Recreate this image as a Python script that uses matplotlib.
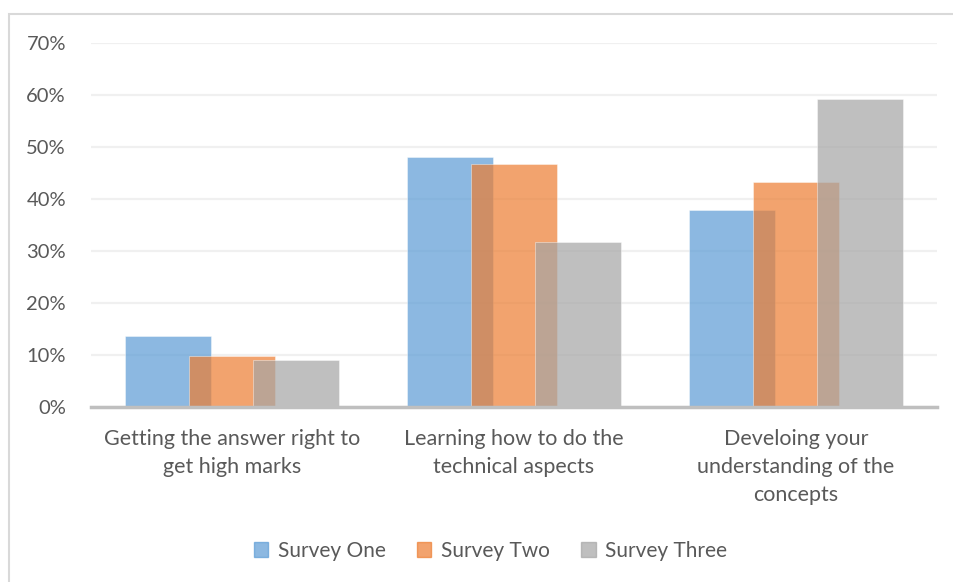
import matplotlib
matplotlib.use('Agg')
import matplotlib.pyplot as plt
import matplotlib.patches as mpatches
from matplotlib.ticker import PercentFormatter
import numpy as np

# Chart values (percent of responses)
categories = ['Getting the answer right to\nget high marks',
              'Learning how to do the\ntechnical aspects',
              'Develoing your\nunderstanding of the\nconcepts']
series = ['Survey One', 'Survey Two', 'Survey Three']
survey_one = [13.6, 48.1, 37.8]
survey_two = [9.8, 46.7, 43.2]
survey_three = [9.0, 31.7, 59.3]
yticks = [0, 10, 20, 30, 40, 50, 60, 70]

colors = ['#5B9BD5', '#ED7D31', '#A5A5A5']
text_color = '#595959'

plt.rcParams['font.family'] = ['Lato', 'DejaVu Sans']

fig = plt.figure(figsize=(9.54, 5.82), dpi=100)
ax = fig.add_axes([91/954, 1-407/582, (937-91)/954, (407-43)/582])

x = np.arange(len(categories))
width = 0.305
offset = 0.227
for i, (vals, col) in enumerate(zip([survey_one, survey_two, survey_three], colors)):
    ax.bar(x + (i - 1) * offset, vals, width, color=col, alpha=0.7,
           edgecolor=(1, 1, 1, 0.5), linewidth=0.4, zorder=3 + i)

ax.set_xlim(-0.5, 2.5)
ax.set_ylim(0, 70)
ax.set_yticks(yticks)
ax.yaxis.set_major_formatter(PercentFormatter(decimals=0))
ax.grid(axis='y', color='#F0F0F0', linewidth=1.6, zorder=0)
ax.set_axisbelow(True)

for s in ['top', 'right', 'left']:
    ax.spines[s].set_visible(False)
ax.spines['bottom'].set_color('#BFBFBF')
ax.spines['bottom'].set_linewidth(2.5)
ax.spines['bottom'].set_zorder(10)

ax.set_xticks(x)
ax.set_xticklabels(categories, linespacing=1.5, color=text_color, fontsize=15.5)
ax.tick_params(axis='x', length=0, pad=16)
ax.tick_params(axis='y', length=0, pad=18, labelcolor=text_color, labelsize=14.5)

handles = [mpatches.Patch(color=c, alpha=0.7) for c in colors]
leg = fig.legend(handles, series, loc='center', bbox_to_anchor=(0.514, 1-551/582),
                 ncol=3, frameon=False, fontsize=15, handlelength=0.7, handleheight=0.7,
                 handletextpad=0.45, columnspacing=1.5)
for t in leg.get_texts():
    t.set_color(text_color)

# light chart frame
fig.patches.append(mpatches.Rectangle((9.5/954, -0.1), 1.2, 1.1 - 13.5/582,
                                      transform=fig.transFigure, fill=False,
                                      edgecolor='#D9D9D9', linewidth=1.5))

fig.savefig('out.png', dpi=100)
